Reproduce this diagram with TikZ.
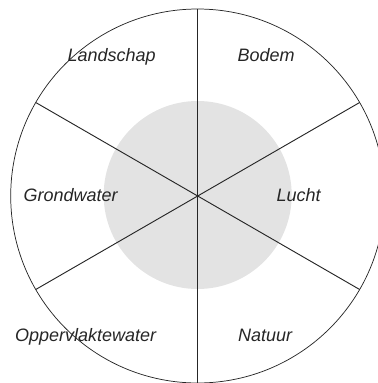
\documentclass[tikz,border=0pt]{standalone}
\usepackage{fontspec}
\setmainfont{Liberation Sans}
\usepackage{tikz}
\usetikzlibrary{positioning}

\begin{document}
\begin{tikzpicture}[x=0.75pt,y=0.75pt,
 lbl/.style={font=\fontsize{13.5}{16}\selectfont\itshape,inner sep=0pt,anchor=base,text=black!85},
 spoke/.style={line width=0.7pt,draw=black!85}]
\useasboundingbox (-197.7,-187) rectangle (180.3,196);
\coordinate (c) at (0,0);
\fill[gray!22] (0,1) circle (94);
\draw[line width=0.55pt,black!85] (c) circle (187);
\foreach \a in {30,90,...,330}
  \draw[spoke] (c) -- (\a:187);
\node[lbl] (land) at (-86,135) {Landschap};
\node[lbl] (bodem) at (68.5,135) {Bodem};
\node[lbl] (grond) at (-127,-5.7) {Grondwater};
\node[lbl] (lucht) at (101,-5.7) {Lucht};
\node[lbl] (opp) at (-112,-145.7) {Oppervlaktewater};
\node[lbl] (natuur) at (67.5,-145.7) {Natuur};
\end{tikzpicture}
\end{document}
